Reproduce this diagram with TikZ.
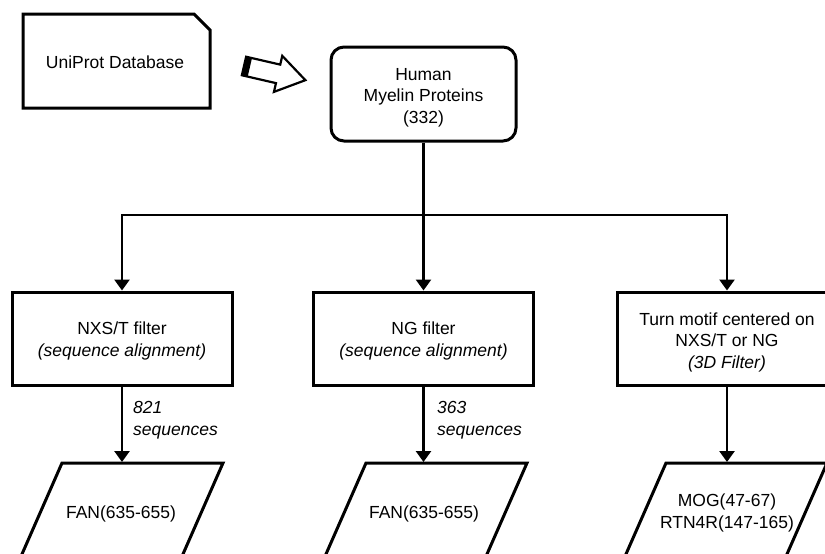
\documentclass[tikz,border=0pt]{standalone}
\usepackage{fontspec}
\setmainfont{Liberation Sans}
\usetikzlibrary{arrows.meta}
\begin{document}
\begin{tikzpicture}[x=1pt,y=-1pt,
  font=\fontsize{17.5pt}{21.5pt}\selectfont,
  boxshape/.style={draw,line width=3pt,minimum width=220pt,minimum height=93pt,inner sep=0pt},
  txt/.style={align=center,inner sep=0pt},
  lbl/.style={align=left,inner sep=0pt,anchor=west,font=\fontsize{17.5pt}{21.5pt}\selectfont\itshape},
  conn/.style={line width=2.6pt,line join=miter},
  arr/.style={conn,-{Triangle[width=15pt,length=11pt]}},
  shapeline/.style={line width=3pt,line join=miter}]
\useasboundingbox (0,0) rectangle (825,554);
\clip (0,0) rectangle (825,554);

% UniProt card
\draw[shapeline] (23,14) -- (194,14) -- (210,30) -- (210,108) -- (23,108) -- cycle;
\node[txt] (uni) at (115,62.5) {UniProt Database};

% block arrow
\begin{scope}[shift={(244,66)},rotate=-13]
  \draw[line width=2.2pt,line join=miter,fill=white] (0,-9.5) -- (35,-9.5) -- (35,-18.5) -- (63,0) -- (35,18.5) -- (35,9.5) -- (0,9.5) -- cycle;
  \fill (0,-9.5) rectangle (6,9.5);
\end{scope}

% Human myelin proteins
\node[draw,line width=3pt,rounded corners=13pt,minimum width=185pt,minimum height=94pt,inner sep=0pt] (hmp) at (423.5,94) {};
\node[txt] (hmpt) at (423.5,97.5) {Human\\Myelin Proteins\\(332)};

% filter boxes
\node[boxshape] (bL) at (122,338.5) {};
\node[txt] (bLt) at (122,341) {NXS/T filter\\\textit{(sequence alignment)}};
\node[boxshape] (bM) at (423.5,338.5) {};
\node[txt] (bMt) at (423.5,341) {NG filter\\\textit{(sequence alignment)}};
\node[boxshape] (bR) at (727,338.5) {};
\node[txt] (bRt) at (727,342) {Turn motif centered on\\NXS/T or NG\\\textit{(3D Filter)}};

% branching connectors
\coordinate (jM) at (423.5,215);
\draw[arr] (hmp.south) -- (bM.north);
\draw[arr] (jM) -| (bL.north);
\draw[arr] (jM) -| (bR.north);

% result parallelograms
\draw[shapeline] (62,463) -- (223,463) -- (180.4,560) -- (19.4,560) -- cycle;
\draw[shapeline] (366,463) -- (527,463) -- (484.4,560) -- (323.4,560) -- cycle;
\draw[shapeline] (666,463) -- (827,463) -- (784.4,560) -- (623.4,560) -- cycle;
\coordinate (pLt) at (122,462);
\coordinate (pMt) at (423.5,462);
\coordinate (pRt) at (727,462);
\node[txt] (pL) at (121,514) {FAN(635-655)};
\node[txt] (pM) at (424,514) {FAN(635-655)};
\node[txt] (pR) at (727,513) {MOG(47-67)\\RTN4R(147-165)};

\draw[arr] (bL.south) -- (pLt);
\draw[arr] (bM.south) -- (pMt);
\draw[arr] (bR.south) -- (pRt);

% labels
\node[lbl] (lL) at (133,420.4) {821\\sequences};
\node[lbl] (lM) at (437,420.4) {363\\sequences};
\end{tikzpicture}
\end{document}
